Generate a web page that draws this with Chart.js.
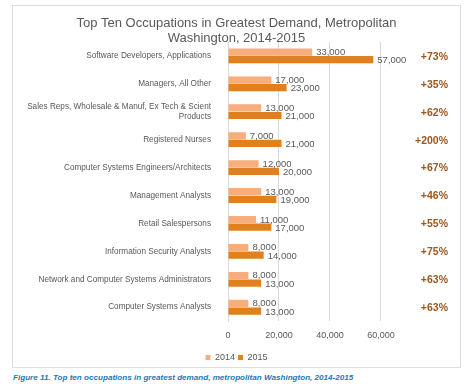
<!DOCTYPE html>
<html>
<head>
<meta charset="utf-8">
<script src="https://cdn.jsdelivr.net/npm/chart.js@4"></script>
<style>
  body { margin: 0; background: #fff; font-family: "Liberation Sans", Arial, sans-serif; }
  #box { position: absolute; left: 12px; top: 5px; width: 449px; height: 363px; border: 1px solid #dedede; box-sizing: border-box; }
  #myChart { position: absolute; left: 0; top: 0; }
  #caption { position: absolute; left: 13px; top: 373px; font-size: 8.1px; font-weight: bold; font-style: italic; color: #1f78b4; white-space: nowrap; }
</style>
</head>
<body>
<div id="box"><canvas id="myChart" width="447" height="365"></canvas></div>
<div id="caption">Figure 11. Top ten occupations in greatest demand, metropolitan Washington, 2014-2015</div>
<script>
const occupations = [
  'Software Developers, Applications',
  'Managers, All Other',
  ['Sales Reps, Wholesale & Manuf, Ex Tech & Scient', 'Products'],
  'Registered Nurses',
  'Computer Systems Engineers/Architects',
  'Management Analysts',
  'Retail Salespersons',
  'Information Security Analysts',
  'Network and Computer Systems Administrators',
  'Computer Systems Analysts'
];
const jobs2014 = [33000, 17000, 13000, 7000, 12000, 13000, 11000, 8000, 8000, 8000];
const jobs2015 = [57000, 23000, 21000, 21000, 20000, 19000, 17000, 14000, 13000, 13000];
const growth = ['+73%', '+35%', '+62%', '+200%', '+67%', '+46%', '+55%', '+75%', '+63%', '+63%'];
const xTicks = [0, 20000, 40000, 60000];

const fontFamily = '"Liberation Sans", Arial, sans-serif';

// value labels next to bars, plus growth text at the right
const labelPlugin = {
  id: 'barLabels',
  afterDatasetsDraw(chart) {
    const ctx = chart.ctx;
    ctx.save();
    ctx.font = '9.5px ' + fontFamily;
    ctx.fillStyle = '#595959';
    ctx.textAlign = 'left';
    chart.data.datasets.forEach((ds, i) => {
      const meta = chart.getDatasetMeta(i);
      meta.data.forEach((bar, j) => {
        ctx.textBaseline = i === 0 ? 'bottom' : 'middle';
        const y = i === 0 ? bar.y + 5 : bar.y + 1;
        ctx.fillText(ds.data[j].toLocaleString('en-US'), bar.x + 4, y);
      });
    });
    ctx.font = 'bold 10.5px ' + fontFamily;
    ctx.fillStyle = '#a0561a';
    ctx.textAlign = 'right';
    ctx.textBaseline = 'middle';
    const yScale = chart.scales.y;
    growth.forEach((g, j) => {
      ctx.fillText(g, chart.width - 12, yScale.getPixelForValue(j) + 1);
    });
    ctx.restore();
  }
};

new Chart(document.getElementById('myChart'), {
  type: 'bar',
  data: {
    labels: occupations,
    datasets: [
      { label: '2014', data: jobs2014, backgroundColor: '#f7ae7c', categoryPercentage: 0.54, barPercentage: 0.96 },
      { label: '2015', data: jobs2015, backgroundColor: '#e0801f', categoryPercentage: 0.54, barPercentage: 0.96 }
    ]
  },
  options: {
    indexAxis: 'y',
    responsive: false,
    animation: false,
    layout: { padding: 0 },
    scales: {
      x: {
        min: 0,
        max: 91000,
        afterBuildTicks(axis) { axis.ticks = xTicks.map(v => ({ value: v })); },
        grid: { color: '#d9d9d9', drawTicks: false },
        border: { display: false },
        ticks: {
          color: '#595959',
          font: { size: 9, family: fontFamily },
          padding: 9,
          callback: v => v.toLocaleString('en-US')
        }
      },
      y: {
        afterFit(axis) { axis.width = 215; },
        grid: { display: false },
        border: { display: true, color: '#d9d9d9' },
        ticks: { color: '#595959', font: { size: 8.2, family: fontFamily, lineHeight: 1.25 }, padding: 9 }
      }
    },
    plugins: {
      title: {
        display: true,
        text: ['Top Ten Occupations in Greatest Demand, Metropolitan', 'Washington, 2014-2015'],
        color: '#595959',
        font: { size: 13, weight: 'normal', family: fontFamily, lineHeight: 1.15 },
        padding: { top: 10, bottom: -4 }
      },
      legend: {
        position: 'bottom',
        maxHeight: 21,
        labels: { color: '#595959', font: { size: 9, family: fontFamily }, boxWidth: 5, boxHeight: 5, padding: 3 }
      },
      tooltip: { enabled: false }
    }
  },
  plugins: [labelPlugin]
});
</script>
</body>
</html>
